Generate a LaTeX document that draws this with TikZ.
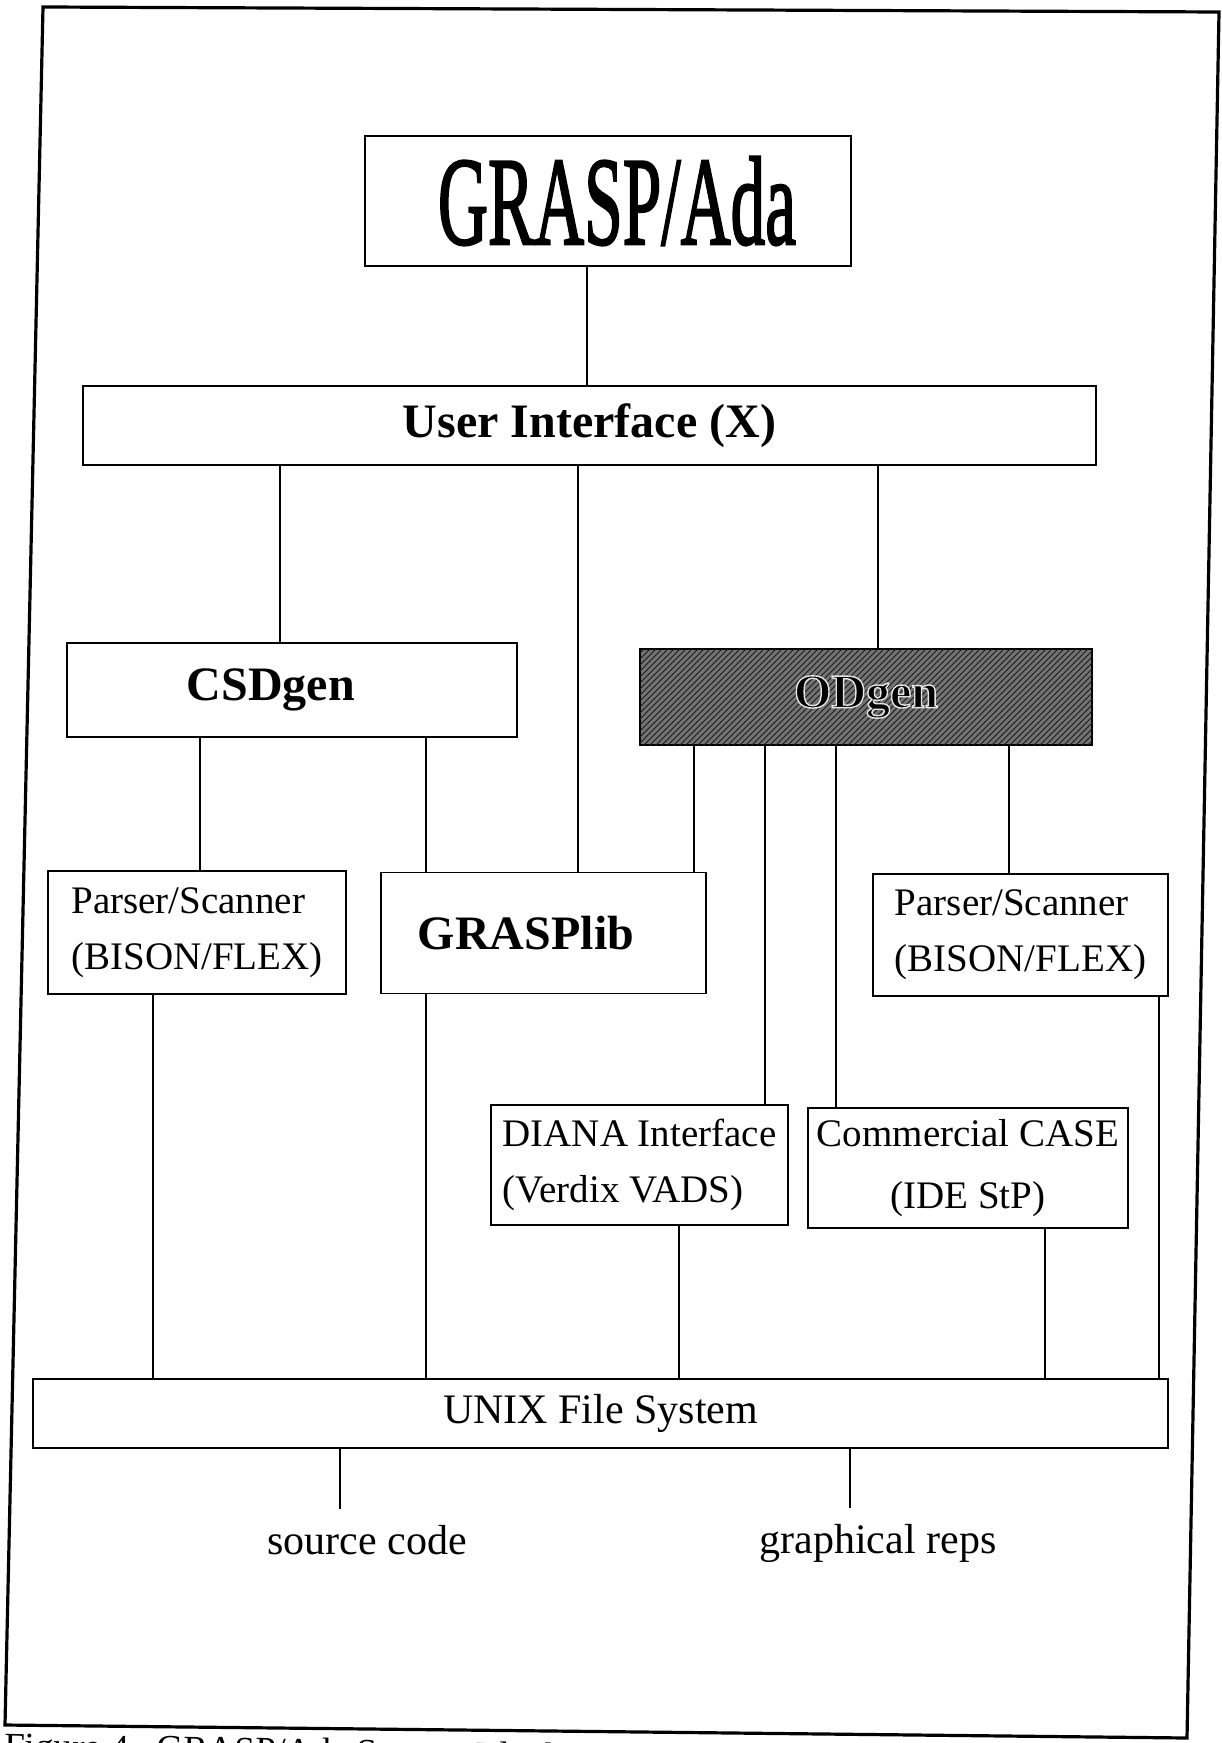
\documentclass[tikz,border=0pt]{standalone}
\usepackage{fontspec}
\setmainfont{Liberation Serif}
\usetikzlibrary{calc,patterns}
\def\halotext#1{\special{pdf:literal direct 2 Tr 0.9 G 0.7 w}#1\special{pdf:literal direct 0 Tr 0 G}}
\def\heavytext#1{\special{pdf:literal direct 2 Tr 0 G 1.3 w}#1\special{pdf:literal direct 0 Tr}}

\begin{document}
\begin{tikzpicture}[x=0.5pt,y=-0.5pt,
		blk/.style={draw, line width=0.9pt, inner sep=0pt, align=center},
		wire/.style={line width=0.9pt},
		bigtxt/.style={font=\fontsize{24}{24}\selectfont\bfseries},
		smalltxt/.style={font=\fontsize{19.5}{28}\selectfont}]
			%%%%% START %%%%%
			
			\useasboundingbox (0,0) rectangle (1221,1743);
			\clip (0,0) rectangle (1221,1743);
			
			\draw[line width=1.6pt] (43,7) -- (1219,12) -- (1187,1738) -- (5,1725) -- cycle;
			
			\node[blk, minimum width=243pt, minimum height=65pt] (grasp) at (608, 201) {\hspace{9pt}\scalebox{0.55}[1]{\fontsize{63}{63}\selectfont\heavytext{GRASP/Ada}}};
			\node[blk, bigtxt, minimum width=506.5pt, minimum height=39.5pt] (ui) at (589.5, 425.5) {User Interface (X)};
			
			\node[blk, bigtxt, minimum width=225pt, minimum height=47pt] (csd) at (292, 690) {CSDgen\hspace{21pt}};
			\node[blk, bigtxt, text=black, minimum width=226pt, minimum height=48pt, fill=black!55, postaction={pattern=north east lines, pattern color=black!90}] (od) at (866, 697) {\halotext{ODgen}};
			
			\node[blk, smalltxt, align=left, minimum width=149pt, minimum height=61.5pt] (psl) at (197, 932.5) {Parser/Scanner\\(BISON/FLEX)};
			\node[blk, bigtxt, minimum width=162.5pt, minimum height=60.5pt] (lib) at (543.5, 933) {GRASPlib\hspace{17.5pt}};
			\node[blk, smalltxt, align=left, minimum width=147.5pt, minimum height=61pt] (psr) at (1020.5, 935) {Parser/Scanner\\(BISON/FLEX)};
			
			\node[blk, smalltxt, align=left, minimum width=148.5pt, minimum height=60pt] (diana) at (639.5, 1165) {DIANA Interface\\(Verdix VADS)};
			\node[blk, font=\fontsize{19.5}{31}\selectfont, minimum width=160pt, minimum height=60pt] (cse) at (968, 1168) {Commercial CASE\\(IDE StP)\hspace{8pt}};
			
			\node[blk, font=\fontsize{21}{21}\selectfont, minimum width=567.5pt, minimum height=34.5pt] (unix) at (600.5, 1413.5) {UNIX File System};
			
			\node[font=\fontsize{21}{21}\selectfont, inner sep=8pt] (src) at (367, 1540) {source code};
			\node[font=\fontsize{21}{21}\selectfont, inner sep=8pt] (grp) at (878, 1543) {graphical reps};
			
			% connectors
			\draw[wire] (grasp.south -| 587,0) -- (ui.north -| 587,0);
			\draw[wire] (ui.south -| 280,0) -- (csd.north -| 280,0);
			\draw[wire] (ui.south -| 578,0) -- (lib.north -| 578,0);
			\draw[wire] (ui.south -| 878,0) -- (od.north -| 878,0);
			
			\draw[wire] (csd.south -| 200,0) -- (psl.north -| 200,0);
			\draw[wire] (csd.south -| 426,0) -- (lib.north -| 426,0);
			
			\draw[wire] (od.south -| 694,0) -- (lib.north -| 694,0);
			\draw[wire] (od.south -| 765,0) -- (diana.north -| 765,0);
			\draw[wire] (od.south -| 836,0) -- (cse.north -| 836,0);
			\draw[wire] (od.south -| 1009,0) -- (psr.north -| 1009,0);
			
			\draw[wire] (psl.south -| 153,0) -- (unix.north -| 153,0);
			\draw[wire] (lib.south -| 426,0) -- (unix.north -| 426,0);
			\draw[wire] (diana.south -| 679,0) -- (unix.north -| 679,0);
			\draw[wire] (cse.south -| 1045,0) -- (unix.north -| 1045,0);
			\draw[wire] (psr.south -| 1159,0) -- (unix.north -| 1159,0);
			
			\draw[wire] (unix.south -| 340,0) -- (src.north -| 340,0);
			\draw[wire] (unix.south -| 850,0) -- (grp.north -| 850,0);
			
			\node[anchor=base west, rotate=-1.1, inner sep=0pt, font=\fontsize{18.5}{18.5}\selectfont] (cap) at (4, 1758) {Figure 4.\ \ GRASP/Ada System Block Diagram};
			
			%%%%% END %%%%%
		\end{tikzpicture}
\end{document}
